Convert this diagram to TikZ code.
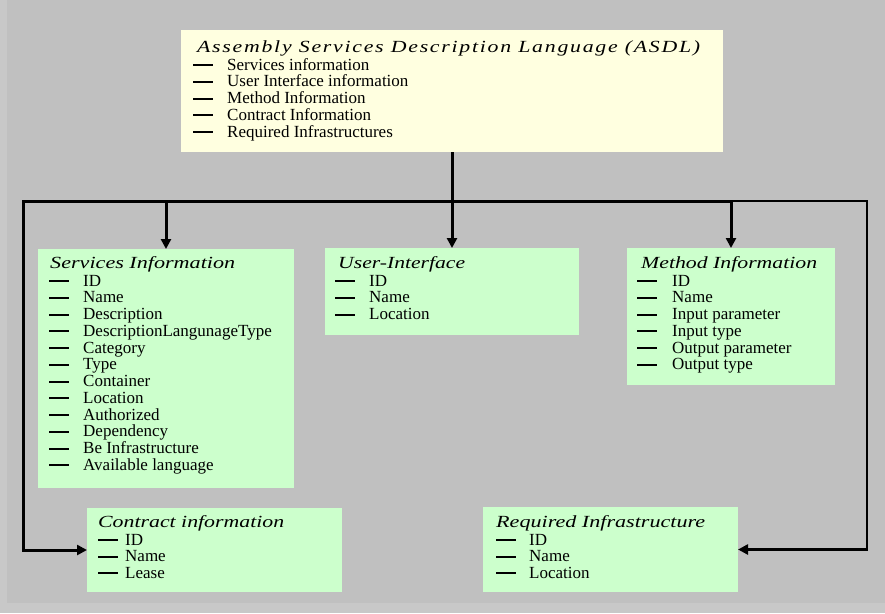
\documentclass[tikz,border=0pt]{standalone}
\usepackage{fontspec}
\setmainfont{Liberation Serif}
\usetikzlibrary{arrows.meta}

\definecolor{pagebg}{HTML}{C0C0C0}
\definecolor{pageedge}{HTML}{C8C8C8}
\definecolor{asdlfill}{HTML}{FFFFE0}
\definecolor{partfill}{HTML}{CCFFCC}

% a list entry: a dash, then the text at a fixed indent
\newlength\entryindent
\newcommand\entry[1]{\makebox[\entryindent][l]{\rule[4pt]{20pt}{2pt}}#1}
% a box title stretched to a given width
\newcommand\boxtitle[2]{\resizebox{#1}{\height}{#2}}

\tikzset{
  asdlbox/.style={fill=asdlfill, inner sep=0pt, outer sep=0pt, anchor=north west},
  partbox/.style={fill=partfill, inner sep=0pt, outer sep=0pt, anchor=north west},
  heading/.style={anchor=base west, inner sep=0pt, font=\fontsize{17}{17}\selectfont\itshape},
  listline/.style={anchor=base west, inner sep=0pt, font=\fontsize{17}{17}\selectfont},
  feed/.style={line width=3pt, -{Triangle[length=10pt,width=10pt]}},
  returnline/.style={line width=2.5pt, -{Triangle[length=10pt,width=10pt]}},
}

\begin{document}
\begin{tikzpicture}[x=1pt, y=-1pt]
  % page
  \fill[pageedge] (0,0) rectangle (885,613);
  \fill[pagebg] (7,0) rectangle (885,603);
  \useasboundingbox (0,0) rectangle (885,613);

  % boxes
  \node[asdlbox, minimum width=542pt, minimum height=122pt] (asdl) at (181,30) {};
  \node[partbox, minimum width=256pt, minimum height=239pt] (svc) at (38,249) {};
  \node[partbox, minimum width=254pt, minimum height=87pt] (ui) at (325,248) {};
  \node[partbox, minimum width=208pt, minimum height=137pt] (meth) at (627,248) {};
  \node[partbox, minimum width=255pt, minimum height=84pt] (contract) at (87,508) {};
  \node[partbox, minimum width=255pt, minimum height=85pt] (infra) at (483,507) {};

  % ASDL contents
  \node[heading] (asdl-t) at (197,52) {\boxtitle{503pt}{\addfontfeatures{LetterSpace=8}Assembly Services Description Language (ASDL)}};
  \setlength\entryindent{34pt}
  \foreach \t [count=\i] in {Services information, User Interface information, Method Information, Contract Information, Required Infrastructures}
    \node[listline] (asdl-\i) at (193,{70+16.75*(\i-1)}) {\entry{\t}};

  % Services Information contents
  \node[heading] (svc-t) at (50,268) {\boxtitle{185pt}{Services Information}};
  \foreach \t [count=\i] in {ID, Name, Description, DescriptionLangunageType, Category, Type, Container, Location, Authorized, Dependency, Be Infrastructure, Available language}
    \node[listline] (svc-\i) at (49,{286+16.75*(\i-1)}) {\entry{\t}};

  % User-Interface contents
  \node[heading] (ui-t) at (338,268) {\boxtitle{127pt}{User-Interface}};
  \foreach \t [count=\i] in {ID, Name, Location}
    \node[listline] (ui-\i) at (335,{286+16.75*(\i-1)}) {\entry{\t}};

  % Method Information contents
  \node[heading] (meth-t) at (641,268) {\boxtitle{176pt}{Method Information}};
  \setlength\entryindent{35pt}
  \foreach \t [count=\i] in {ID, Name, Input parameter, Input type, Output parameter, Output type}
    \node[listline] (meth-\i) at (637,{286+16.75*(\i-1)}) {\entry{\t}};

  % Contract information contents
  \setlength\entryindent{27pt}
  \node[heading] (contract-t) at (98,527) {\boxtitle{186pt}{Contract information}};
  \foreach \t [count=\i] in {ID, Name, Lease}
    \node[listline] (contract-\i) at (98,{545+16.5*(\i-1)}) {\entry{\t}};

  % Required Infrastructure contents
  \setlength\entryindent{33pt}
  \node[heading] (infra-t) at (496,527) {\boxtitle{209pt}{Required Infrastructure}};
  \foreach \t [count=\i] in {ID, Name, Location}
    \node[listline] (infra-\i) at (496,{545+16.5*(\i-1)}) {\entry{\t}};

  % connectors
  \coordinate (busL) at (23,201);
  \coordinate (busR) at (867,201);
  \draw[feed] (asdl.south) -- (ui.north);
  \draw[feed] (svc.north |- busL) -- (svc.north);
  \draw[feed] (meth.north |- busL) -- (meth.north);
  \draw[returnline, line width=3pt, line join=miter] (meth.north |- busL) -- (busL) |- (contract.west);
  \draw[returnline, line join=miter] (meth.north |- busL) -- (busR) |- (infra.east);
\end{tikzpicture}
\end{document}
